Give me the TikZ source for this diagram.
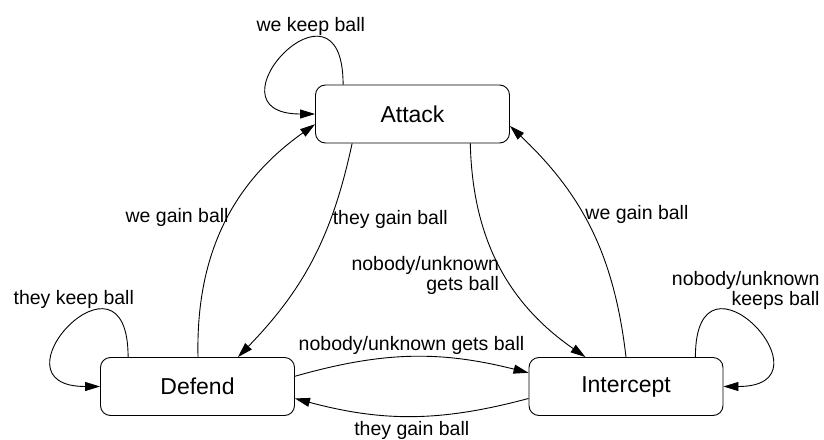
\documentclass[tikz,border=0pt]{standalone}
\usepackage{fontspec}
\setmainfont{Liberation Sans}
\usetikzlibrary{positioning, arrows.meta}

\begin{document}
\begin{tikzpicture}[x=1pt, y=1pt, node distance=2cm, on grid,
    line width=0.9pt, >={Triangle[length=15pt, width=9pt]},
    phase/.style={draw, rounded corners=10pt, minimum width=194pt,
      minimum height=58pt, inner sep=0pt, font=\fontsize{23}{26}\selectfont},
    lbl/.style={font=\fontsize{19.5}{20}\selectfont, inner sep=2pt},
    keep/.style={out=90, in=#1, out distance=124pt, in distance=115pt}]
  \useasboundingbox (-412.5,114) rectangle (411.5,-325);
  \node [phase] (q_att) {Attack};
  \node [phase] [below left=272.5pt and 215pt of q_att] (q_def) {Defend};
  \node [phase] [right=428.5pt of q_def] (q_int) {Intercept};
  \path[->]
    (q_att.157) edge [keep=180] node [lbl, above, pos=0.33, yshift=-1pt] {we keep ball} (q_att.west)
    (q_att.206) edge [bend left=16] node [lbl, right, pos=0.31] {they gain ball} (q_def.36)
    (q_att.333) edge [bend right=27] node [lbl, left, pos=0.55, xshift=-4pt, align=right] {nobody/unknown\\gets ball} (q_int.144)
    (q_def.89) edge [bend left=28] node [lbl, left, pos=0.53, xshift=3pt] {we gain ball} (q_att.186)
    (q_def.157) edge [keep=180] node [lbl, above, pos=0.33, xshift=-22pt, yshift=-2pt] {they keep ball} (q_def.west)
    (q_def.6) edge [bend left=15] node [lbl, above] {nobody/unknown gets ball} (q_int.172)
    (q_int.90) edge [bend right=20] node [lbl, right, pos=0.57] {we gain ball} (q_att.353)
    (q_int.187) edge [bend left=15] node [lbl, below=3pt] {they gain ball} (q_def.353)
    (q_int.23) edge [keep=0] node [lbl, above, pos=0.33, xshift=18pt, yshift=-3pt, align=right] {nobody/unknown\\keeps ball} (q_int.east);
\end{tikzpicture}
\end{document}
